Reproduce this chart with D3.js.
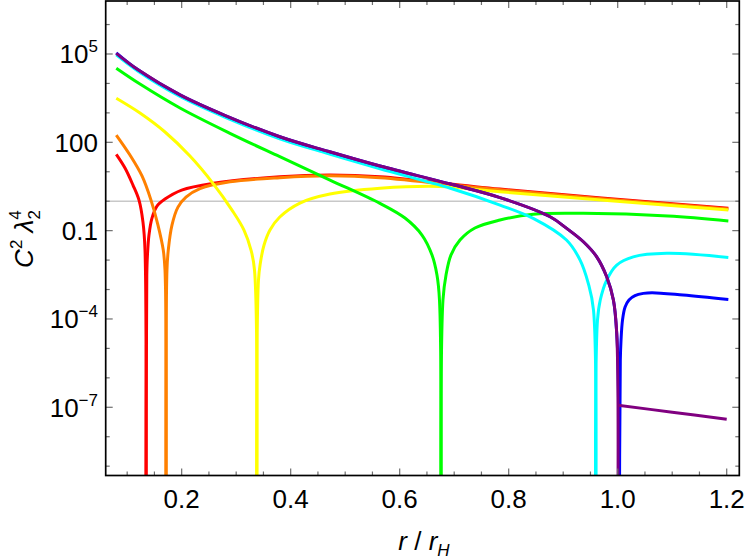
<!DOCTYPE html>
<html>
<head>
<meta charset="utf-8">
<script src="https://cdn.jsdelivr.net/npm/d3@7"></script>
<style>
  body { margin: 0; background: #fff; }
  text { font-family: "Liberation Sans", Arial, sans-serif; }
</style>
</head>
<body>
<div id="root"></div>
<script>
const width = 750;
const height = 559;
const margin = { left: 105.7, right: 10.7, top: 1, bottom: 83.5 };

// ---- data (r / r_H and C^2 lambda_2^4) ----
// a value of 1e-12 marks a zero of the function (the curve drops off the bottom)
const redR = [0.08, 0.096, 0.1106, 0.1217, 0.129, 0.1327, 0.1345, 0.136, 0.1372, 0.14, 0.1455, 0.1547, 0.1694, 0.2, 0.258, 0.38, 0.472, 0.564, 0.784, 1.203];
const redV = [39, 13.4, 3.54, 1.09, 0.195, 0.0219, 1e-12, 3.1e-3, 0.0148, 0.071, 0.267, 0.684, 1.18, 2.39, 4.04, 6.76, 7.74, 6.76, 2.59, 0.571];

const orangeR = [0.08, 0.1051, 0.1272, 0.1437, 0.1565, 0.1662, 0.1694, 0.1712, 0.173, 0.1754, 0.1822, 0.1932, 0.2079, 0.2336, 0.2886, 0.38, 0.472, 0.564, 0.784, 1.203];
const orangeV = [177, 37, 7.2, 1.09, 0.155, 0.0219, 4.6e-3, 1e-12, 4.6e-3, 0.0219, 0.155, 0.63, 1.38, 2.69, 4.57, 6.3, 7.25, 6.3, 2.43, 0.54];

const yellowR = [0.08, 0.1235, 0.1694, 0.2152, 0.2574, 0.2923, 0.3143, 0.3272, 0.3336, 0.3376, 0.3409, 0.3446, 0.351, 0.362, 0.38, 0.417, 0.472, 0.564, 0.674, 0.784, 1.203];
const yellowV = [3.13e3, 988, 224, 34.2, 4.05, 0.5, 0.105, 0.0219, 4.6e-3, 1e-12, 2.1e-3, 8.5e-3, 0.032, 0.105, 0.29, 0.865, 1.75, 2.74, 3.16, 2.09, 0.5];

const greenR = [0.08, 0.1235, 0.1969, 0.2886, 0.38, 0.4721, 0.5638, 0.6097, 0.6409, 0.6593, 0.6684, 0.673, 0.6758, 0.6794, 0.685, 0.694, 0.7106, 0.738, 0.784, 0.845, 0.937, 1.0923, 1.203];
const greenV = [3.27e4, 9.5e3, 1.46e3, 202, 32.4, 5.24, 0.845, 0.268, 0.0708, 0.0148, 3.1e-3, 4.4e-4, 1e-12, 4.4e-4, 3.1e-3, 0.0148, 0.0479, 0.123, 0.229, 0.363, 0.389, 0.316, 0.214];

const cyanR = [0.08, 0.12, 0.197, 0.28, 0.38, 0.47, 0.564, 0.693, 0.784, 0.845, 0.906, 0.931, 0.946, 0.9556, 0.9595, 0.9629, 0.968, 0.9798, 0.9982, 1.0286, 1.09, 1.203];
const cyanV = [9.3e4, 2.6e4, 3.6e3, 708, 132, 40.7, 12.6, 2.75, 0.74, 0.261, 0.0479, 0.01, 1.62e-3, 2.0e-4, 1e-12, 9.1e-5, 4.4e-4, 2.1e-3, 6.8e-3, 0.0129, 0.017, 0.0123];

const blueR = [0.08, 0.12, 0.197, 0.28, 0.38, 0.47, 0.564, 0.693, 0.784, 0.876, 0.9064, 0.937, 0.9615, 0.9798, 0.9921, 0.9982, 1.0005, 1.003, 1.0048, 1.0061, 1.0088, 1.0134, 1.0207, 1.0317, 1.047, 1.063, 1.12, 1.203];
const blueV = [1.1e5, 2.9e4, 4.1e3, 813, 155, 48.6, 15.6, 3.83, 1.33, 0.296, 0.119, 0.0419, 0.0129, 2.71e-3, 4.38e-4, 3.24e-5, 3e-6, 1e-12, 4e-6, 1.9e-5, 9.1e-5, 2.5e-4, 4.4e-4, 6.2e-4, 7.4e-4, 7.8e-4, 6.5e-4, 4.6e-4];

const purpleR = [0.08, 0.12, 0.197, 0.28, 0.38, 0.47, 0.564, 0.693, 0.784, 0.876, 0.9064, 0.937, 0.9615, 0.9798, 0.9921, 0.9982, 1.0, 1.0005, 1.1, 1.2];
const purpleV = [1.05e5, 2.9e4, 4.1e3, 813, 155, 48.6, 15.6, 3.83, 1.33, 0.296, 0.119, 0.0419, 0.0129, 2.71e-3, 4.38e-4, 3.24e-5, 1e-12, 1.17e-7, 6.8e-8, 3.9e-8];

const seriesColors = ["#ff0000", "#ff8000", "#ffff00", "#00ff00", "#00ffff", "#0000ff", "#800080"];
const referenceLevel = 1;

const xMajorTicks = [0.2, 0.4, 0.6, 0.8, 1.0, 1.2];
const xTickLabels = ["0.2", "0.4", "0.6", "0.8", "1.0", "1.2"];
const yMajorExp = [-7, -4, -1, 2, 5];
const yTickLabels = [["10", "\u22127"], ["10", "\u22124"], ["0.1", ""], ["100", ""], ["10", "5"]];

// ---- scales ----
const x = d3.scaleLinear()
	.domain([0.0606, 1.2231])
	.range([margin.left, width - margin.right]);
const y = d3.scaleLog()
	.domain([Math.pow(10, -9.317), Math.pow(10, 6.8)])
	.range([height - margin.bottom, margin.top]);

const svg = d3.select("#root")
	.append("svg")
		.attr("width", width)
		.attr("height", height);

svg.append("defs")
	.append("clipPath")
		.attr("id", "plot-clip")
	.append("rect")
		.attr("x", x.range()[0])
		.attr("y", y.range()[1])
		.attr("width", x.range()[1] - x.range()[0])
		.attr("height", y.range()[0] - y.range()[1]);

// reference line at 1
svg.append("line")
	.attr("x1", x.range()[0]).attr("x2", x.range()[1])
	.attr("y1", y(referenceLevel)).attr("y2", y(referenceLevel))
	.style("stroke", "#c8c8c8")
	.style("stroke-width", 1.5);

// ---- curves: split every series at its zeros into smooth branches ----
const splitBranches = (rs, vs) => {
	const branches = [];
	let cur = [];
	rs.forEach((r, i) => {
		const p = [r, vs[i]];
		if (vs[i] <= 1e-12) {
			cur.push(p);
			branches.push(cur);
			// the next branch rises from the zero unless it jumps straight up
			cur = (i + 1 < rs.length && rs[i + 1] - r > 0.001) ? [p] : [];
		} else {
			cur.push(p);
		}
	});
	if (cur.length) branches.push(cur);
	return branches;
};

const allSeries = [
	[redR, redV], [orangeR, orangeV], [yellowR, yellowV], [greenR, greenV],
	[cyanR, cyanV], [blueR, blueV], [purpleR, purpleV]
].map((s, i) => ({ color: seriesColors[i], branches: splitBranches(s[0], s[1]) }));

const line = d3.line()
	.x(d => x(d[0]))
	.y(d => y(d[1]))
	.curve(d3.curveCatmullRom.alpha(0.5));

const curves = svg.append("g")
	.attr("clip-path", "url(#plot-clip)");

allSeries.forEach(s => {
	curves.append("g")
		.selectAll("path")
		.data(s.branches).enter()
		.append("path")
			.attr("d", d => line(d))
			.style("fill", "none")
			.style("stroke", s.color)
			.style("stroke-width", 3)
			.style("stroke-linejoin", "round");
});

// ---- frame & ticks ----
const x0 = x.range()[0], x1 = x.range()[1];
const yb = y.range()[0], yt = y.range()[1];

const xMinor = d3.range(0.1, 1.2001, 0.05).map(v => +v.toFixed(2));
const yMinor = d3.range(-9, 7).map(e => Math.pow(10, e));

const ticks = svg.append("g").style("stroke", "#6e6e6e").style("stroke-width", 1.2);
xMinor.forEach(v => {
	const len = xMajorTicks.some(m => Math.abs(m - v) < 1e-6) ? 7 : 4;
	ticks.append("line").attr("x1", x(v)).attr("x2", x(v)).attr("y1", yb).attr("y2", yb - len);
	ticks.append("line").attr("x1", x(v)).attr("x2", x(v)).attr("y1", yt).attr("y2", yt + len);
});
yMinor.forEach(v => {
	const e = Math.round(Math.log10(v));
	const len = yMajorExp.includes(e) ? 7 : 4;
	ticks.append("line").attr("x1", x0).attr("x2", x0 + len).attr("y1", y(v)).attr("y2", y(v));
	ticks.append("line").attr("x1", x1).attr("x2", x1 - len).attr("y1", y(v)).attr("y2", y(v));
});

svg.append("rect")
	.attr("x", x0).attr("y", yt)
	.attr("width", x1 - x0).attr("height", yb - yt)
	.style("fill", "none")
	.style("stroke", "#000")
	.style("stroke-width", 1.7);

// ---- tick labels ----
svg.append("g")
	.selectAll("text")
	.data(xMajorTicks).enter()
	.append("text")
		.attr("x", d => x(d))
		.attr("y", 508)
		.attr("text-anchor", "middle")
		.style("font-size", "26px")
		.text((d, i) => xTickLabels[i]);

const yLab = svg.append("g")
	.selectAll("text")
	.data(yMajorExp).enter()
	.append("text")
		.attr("x", 98)
		.attr("y", d => y(Math.pow(10, d)) + 9.5)
		.attr("text-anchor", "end")
		.style("font-size", "26px");
yLab.append("tspan").text((d, i) => yTickLabels[i][0]);
yLab.append("tspan")
	.attr("dy", -11)
	.style("font-size", "17px")
	.text((d, i) => yTickLabels[i][1]);

// ---- axis titles ----
const xt = svg.append("text")
	.attr("x", 424)
	.attr("y", 550)
	.attr("text-anchor", "middle")
	.style("font-size", "26px");
xt.append("tspan").style("font-style", "italic").text("r");
xt.append("tspan").text(" / ");
xt.append("tspan").style("font-style", "italic").text("r");
xt.append("tspan").attr("dy", 6).style("font-size", "17px").style("font-style", "italic").text("H");

const yt2 = svg.append("text")
	.attr("transform", "translate(33, 239) rotate(-90)")
	.attr("text-anchor", "middle")
	.style("font-size", "26px");
yt2.append("tspan").style("font-style", "italic").text("C");
yt2.append("tspan").attr("dy", -11).style("font-size", "17px").text("2");
yt2.append("tspan").attr("dy", 11).style("font-style", "italic").text(" \u03bb");
yt2.append("tspan").attr("dy", 7).style("font-size", "17px").text("2");
yt2.append("tspan").attr("dx", -9.5).attr("dy", -19).style("font-size", "17px").text("4");
</script>
</body>
</html>
